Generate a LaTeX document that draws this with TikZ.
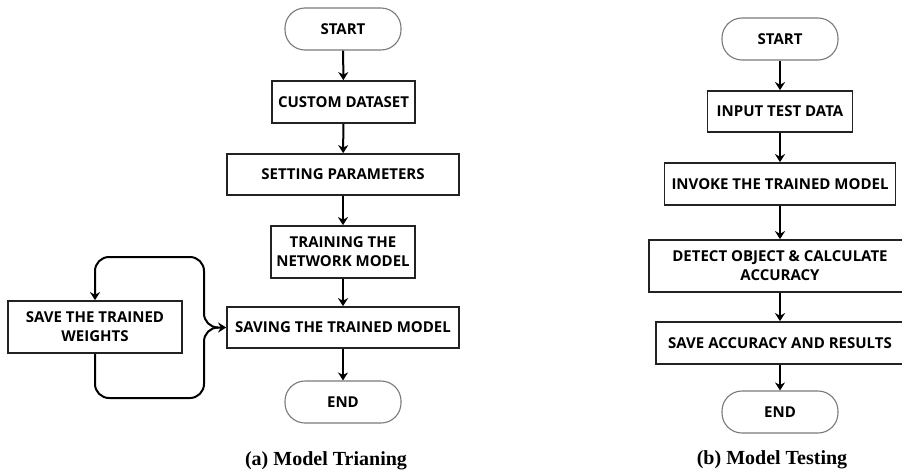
\documentclass[tikz,border=0pt]{standalone}
\usepackage{fontspec}
\usetikzlibrary{arrows.meta}
\newfontfamily\boxfont{Open Sans}
\newfontfamily\capfont{Liberation Serif}
\definecolor{boxline}{HTML}{222222}
\definecolor{termline}{HTML}{7A7A7A}
\tikzset{
  stepbox/.style={draw=boxline, line width=1.7pt, fill=white, inner sep=0pt, align=center,
    font=\boxfont\bfseries\fontsize{15}{19}\selectfont},
  terminal/.style={stepbox, draw=termline, line width=1.1pt, rounded corners=20pt,
    minimum width=116pt, minimum height=42pt},
  flowline/.style={line width=2pt, -{Stealth[length=8pt,width=10pt,inset=2.5pt]}},
  caption/.style={font=\capfont\bfseries\fontsize{20}{24}\selectfont}
}
\begin{document}
\begin{tikzpicture}[x=1pt,y=-1pt]
    \useasboundingbox (0,0) rectangle (902,474);
    % Model training
    \node[terminal] (startA) at (343,29) {START};
    \node[stepbox, minimum width=143pt, minimum height=42pt] (dataset) at (343.5,102) {CUSTOM DATASET};
    \node[stepbox, minimum width=232pt, minimum height=41pt] (params) at (343,174.5) {SETTING PARAMETERS};
    \node[stepbox, minimum width=144pt, minimum height=52pt] (train) at (343,252) {TRAINING THE\\NETWORK MODEL};
    \node[stepbox, minimum width=232pt, minimum height=41pt] (savemodel) at (343,327.5) {SAVING THE TRAINED MODEL};
    \node[terminal] (endA) at (343,402) {END};
    \node[stepbox, minimum width=174pt, minimum height=52pt] (weights) at (95,327) {SAVE THE TRAINED\\WEIGHTS};
    \draw[flowline] (startA) -- (dataset);
    \draw[flowline] (dataset) -- (params);
    \draw[flowline] (params) -- (train);
    \draw[flowline] (train) -- (savemodel);
    \draw[flowline] (savemodel) -- (endA);
    % Loop round the weights box
    \coordinate (join) at (204,327.5);
    \coordinate (lowturn) at (95,398);
    \coordinate (highturn) at (95,257);
    \draw[flowline, rounded corners=14pt] (weights.south) -- (lowturn) -| (join) -- (savemodel.west);
    \draw[flowline, rounded corners=14pt] ([xshift=12pt]join) -- (join) |- (highturn) -- (weights.north);
    \node[caption] (capA) at (326,461) {(a) Model Trianing};
    % Model testing
    \node[terminal] (startB) at (780,39) {START};
    \node[stepbox, minimum width=145pt, minimum height=41pt] (input) at (780,111.5) {INPUT TEST DATA};
    \node[stepbox, minimum width=231pt, minimum height=42pt] (invoke) at (780,184) {INVOKE THE TRAINED MODEL};
    \node[stepbox, minimum width=262pt, minimum height=52pt] (detect) at (780,266) {DETECT OBJECT \& CALCULATE\\ACCURACY};
    \node[stepbox, minimum width=248pt, minimum height=42pt] (saveacc) at (780,343) {SAVE ACCURACY AND RESULTS};
    \node[terminal] (endB) at (780,412) {END};
    \draw[flowline] (startB) -- (input);
    \draw[flowline] (input) -- (invoke);
    \draw[flowline] (invoke) -- (detect);
    \draw[flowline] (detect) -- (saveacc);
    \draw[flowline] (saveacc) -- (endB);
    \node[caption] (capB) at (772,460) {(b) Model Testing};
\end{tikzpicture}
\end{document}
